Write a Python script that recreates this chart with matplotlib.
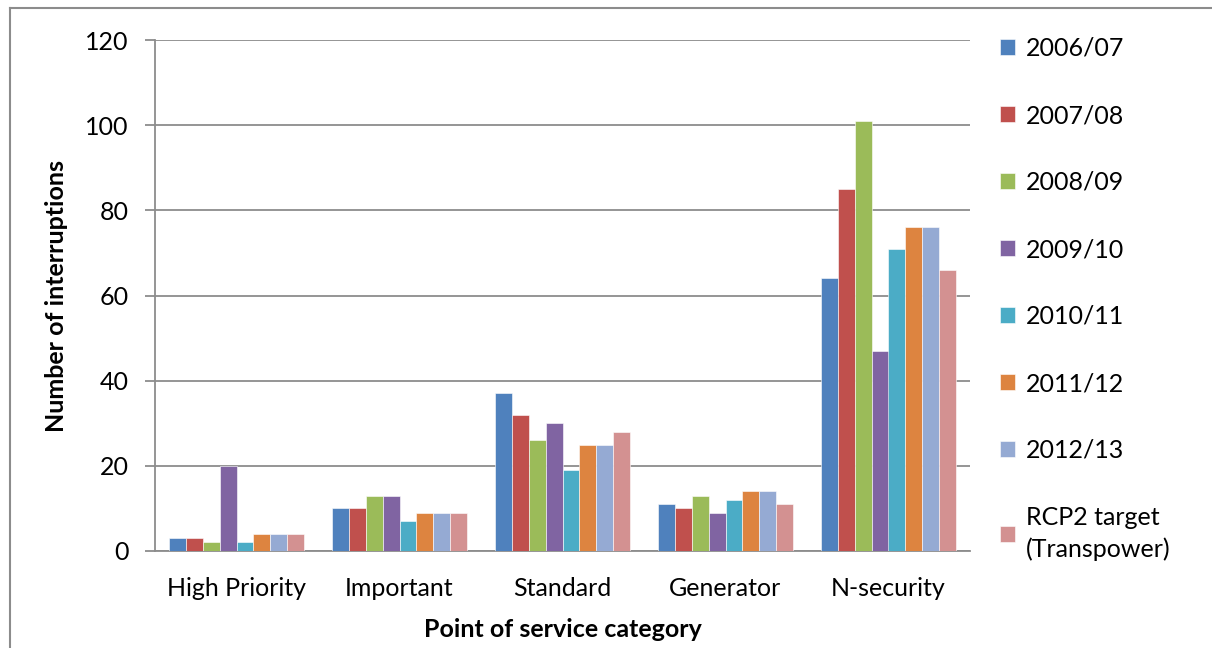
import matplotlib
matplotlib.use("Agg")
import matplotlib.pyplot as plt
import numpy as np
from matplotlib.lines import Line2D

plt.rcParams['font.family'] = ['Lato', 'DejaVu Sans']

categories = ["High Priority", "Important", "Standard", "Generator", "N-security"]
series_labels = ["2006/07", "2007/08", "2008/09", "2009/10", "2010/11",
                 "2011/12", "2012/13", "RCP2 target\n(Transpower)"]
values = [
    [3, 10, 37, 11, 64],    # 2006/07
    [3, 10, 32, 10, 85],    # 2007/08
    [2, 13, 26, 13, 101],   # 2008/09
    [20, 13, 30, 9, 47],    # 2009/10
    [2, 7, 19, 12, 71],     # 2010/11
    [4, 9, 25, 14, 76],     # 2011/12
    [4, 9, 25, 14, 76],     # 2012/13
    [4, 9, 28, 11, 66],     # RCP2 target
]
colors = ["#4F81BD", "#C0504D", "#9BBB59", "#8064A2", "#4BACC6",
          "#DD8440", "#95AAD3", "#D39191"]
y_ticks = [0, 20, 40, 60, 80, 100, 120]

FS = 18

fig = plt.figure(figsize=(12.12, 6.48), dpi=100)
ax = fig.add_axes([155/1212, 1 - 551/648, 815/1212, 511/648])

x = np.arange(len(categories))
n = len(values)
width = 0.104
handles = []
for i, (vals, c) in enumerate(zip(values, colors)):
    offs = (i - (n - 1) / 2) * width
    bars = ax.bar(x + offs, vals, width, color=c, edgecolor="white",
                  linewidth=0.4, zorder=3, label=series_labels[i])
    handles.append(bars)

ax.set_xlim(-0.5, len(categories) - 0.5)
ax.set_ylim(0, 120)
ax.set_yticks(y_ticks)
ax.set_xticks(x)
ax.set_xticklabels(categories)
ax.yaxis.grid(True, color="#8C8C8C", linewidth=1.3, zorder=0)
ax.set_axisbelow(True)
for s in ["top", "right"]:
    ax.spines[s].set_visible(False)
for s in ["left", "bottom"]:
    ax.spines[s].set_color("#8C8C8C")
    ax.spines[s].set_linewidth(1.3)
ax.tick_params(axis="y", length=7, width=1.3, color="#8C8C8C",
               labelsize=FS, pad=12)
ax.tick_params(axis="x", length=0, labelsize=FS, pad=19)
ax.set_ylabel("Number of interruptions", fontsize=FS, fontweight="bold",
              labelpad=12)
ax.set_xlabel("Point of service category", fontsize=FS, fontweight="bold",
              labelpad=13)

leg = fig.legend(handles=handles, labels=series_labels, loc="upper left",
                 bbox_to_anchor=(990/1212, 1 - 27/648), frameon=False,
                 fontsize=FS, handlelength=0.6, handleheight=0.6,
                 handletextpad=0.45, labelspacing=1.76, borderaxespad=0)
leg.get_texts()[-1].set_linespacing(1.45)

# outer frame of the chart area
fig.add_artist(Line2D([10/1212, 10/1212], [0, 1 - 8/648], color="#8C8C8C",
                      linewidth=1.5, transform=fig.transFigure))
fig.add_artist(Line2D([10/1212, 1], [1 - 8/648, 1 - 8/648], color="#8C8C8C",
                      linewidth=1.5, transform=fig.transFigure))

fig.savefig("out.png", dpi=100)
